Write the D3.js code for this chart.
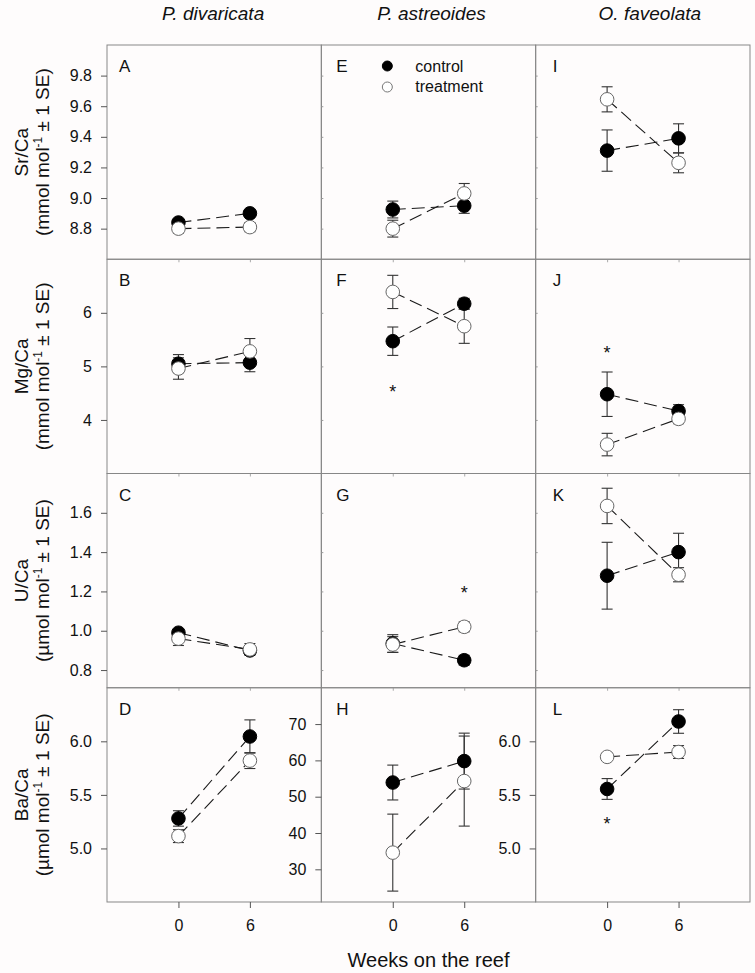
<!DOCTYPE html>
<html>
<head>
<meta charset="utf-8">
<script src="https://cdn.jsdelivr.net/npm/d3@7"></script>
<style>
  html, body { margin: 0; padding: 0; background: #fefcfc; }
  svg { display: block; }
</style>
</head>
<body>
<script>
// ---------------- DATA ----------------
const weeks = [0, 6];
const species = ["P. divaricata", "P. astreoides", "O. faveolata"];
const ratios = ["Sr/Ca", "Mg/Ca", "U/Ca", "Ba/Ca"];
const unitPrefix = ["mmol", "mmol", "\u00B5mol", "\u00B5mol"];
const panelLetters = [["A", "E", "I"], ["B", "F", "J"], ["C", "G", "K"], ["D", "H", "L"]];
const seriesNames = ["control", "treatment"];

// means [row][col][week]
const controlMean = [
  [[8.84, 8.90], [8.925, 8.95], [9.31, 9.39]],
  [[5.05, 5.07], [5.47, 6.17], [4.48, 4.165]],
  [[0.99, 0.90], [0.935, 0.85], [1.28, 1.40]],
  [[5.28, 6.045], [53.9, 59.8], [5.555, 6.185]]
];
const controlSE = [
  [[0.02, 0.02], [0.055, 0.05], [0.135, 0.095]],
  [[0.17, 0.17], [0.265, 0.10], [0.415, 0.12]],
  [[0.015, 0.02], [0.045, 0.025], [0.17, 0.096]],
  [[0.072, 0.155], [4.8, 7.7], [0.097, 0.11]]
];
const treatmentMean = [
  [[8.80, 8.81], [8.80, 9.03], [9.645, 9.23]],
  [[4.96, 5.28], [6.39, 5.75], [3.54, 4.02]],
  [[0.96, 0.905], [0.93, 1.02], [1.635, 1.285]],
  [[5.115, 5.82], [34.6, 54.3], [5.855, 5.90]]
];
const treatmentSE = [
  [[0.03, 0.03], [0.055, 0.065], [0.082, 0.065]],
  [[0.2, 0.24], [0.31, 0.32], [0.21, 0.09]],
  [[0.035, 0.03], [0.04, 0.025], [0.09, 0.036]],
  [[0.06, 0.074], [10.6, 12.4], [0.02, 0.06]]
];

// significance markers: [row, col, week, value]
const asterisks = [
  [1, 1, 0, 4.61],
  [1, 2, 0, 5.33],
  [2, 1, 6, 1.213],
  [3, 2, 0, 5.27]
];

const xDomain = [-6, 12];
const yDomains = [[8.6, 10.0], [3, 7], [0.71, 1.8], [4.5, 6.5]];
const yDomainH = [21, 80];
const yTicks = [
  [8.8, 9.0, 9.2, 9.4, 9.6, 9.8],
  [4, 5, 6],
  [0.8, 1.0, 1.2, 1.4, 1.6],
  [5.0, 5.5, 6.0]
];
const yTicksH = [30, 40, 50, 60, 70];
const yTickFormats = [".1f", "d", ".1f", ".1f"];

// ---------------- LAYOUT ----------------
const W = 755, H = 973;
const L = 107, T = 45, R = 750, B = 902;
const colW = (R - L) / 3, rowH = (B - T) / 4;
const FONT = "Arial, 'Liberation Sans', Helvetica, sans-serif";
const frameColor = "#878787";

const svg = d3.select("body").append("svg")
  .attr("width", W).attr("height", H)
  .style("font-family", FONT);

svg.append("rect").attr("width", W).attr("height", H).attr("fill", "#fefcfc");

const meansArr = [controlMean, treatmentMean];
const seArr = [controlSE, treatmentSE];

for (let r = 0; r < 4; r++) {
  for (let c = 0; c < 3; c++) {
    const x0 = L + c * colW, y0 = T + r * rowH;
    const x = d3.scaleLinear().domain(xDomain).range([x0, x0 + colW]);
    const special = (r === 3 && c === 1);
    const y = d3.scaleLinear().domain(special ? yDomainH : yDomains[r]).range([y0 + rowH, y0]);
    const g = svg.append("g");

    // frame
    g.append("rect")
      .attr("x", x0).attr("y", y0).attr("width", colW).attr("height", rowH)
      .attr("fill", "none").attr("stroke", frameColor).attr("stroke-width", 1);

    // y axis
    if (c === 0 || r === 3) {
      const ax = d3.axisLeft(y)
        .tickValues(special ? yTicksH : yTicks[r])
        .tickFormat(d3.format(special ? "d" : yTickFormats[r]))
        .tickSize(6).tickPadding(9);
      const ag = g.append("g").attr("transform", `translate(${x0},0)`).call(ax);
      ag.select(".domain").remove();
      ag.selectAll("line").attr("stroke", "#555");
      ag.selectAll("text").attr("font-size", 16).attr("fill", "#111").attr("font-family", FONT);
    } else {
      const ax = d3.axisRight(y).tickValues(yTicks[r]).tickSize(2).tickFormat("");
      const ag = g.append("g").attr("transform", `translate(${x0},0)`).call(ax);
      ag.select(".domain").remove();
      ag.selectAll("line").attr("stroke", "#999");
    }

    // x axis
    if (r === 3) {
      const ax = d3.axisBottom(x).tickValues(weeks).tickSize(6).tickPadding(12).tickFormat(d3.format("d"));
      const ag = g.append("g").attr("transform", `translate(0,${y0 + rowH})`).call(ax);
      ag.select(".domain").remove();
      ag.selectAll("line").attr("stroke", "#555");
      ag.selectAll("text").attr("font-size", 16).attr("fill", "#111").attr("font-family", FONT);
    } else {
      const ax = d3.axisBottom(x).tickValues(weeks).tickSize(3).tickFormat("");
      const ag = g.append("g").attr("transform", `translate(0,${y0 + rowH})`).call(ax);
      ag.select(".domain").remove();
      ag.selectAll("line").attr("stroke", "#aaa");
    }

    // panel letter
    const ldx = [12, 15, 17][c];
    g.append("text")
      .attr("x", x0 + ldx).attr("y", y0 + 27)
      .attr("font-size", 17).attr("fill", "#111")
      .text(panelLetters[r][c]);

    // series
    for (let s = 0; s < 2; s++) {
      const pts = weeks.map((w, i) => ({ w: w, m: meansArr[s][r][c][i], se: seArr[s][r][c][i] }));
      // error bars
      pts.forEach(p => {
        const cx = x(p.w);
        const eg = g.append("g").attr("stroke", "#333").attr("stroke-width", 1.1);
        eg.append("line").attr("x1", cx).attr("x2", cx).attr("y1", y(p.m - p.se)).attr("y2", y(p.m + p.se));
        eg.append("line").attr("x1", cx - 5.5).attr("x2", cx + 5.5).attr("y1", y(p.m - p.se)).attr("y2", y(p.m - p.se));
        eg.append("line").attr("x1", cx - 5.5).attr("x2", cx + 5.5).attr("y1", y(p.m + p.se)).attr("y2", y(p.m + p.se));
      });
      // dashed line
      g.append("path")
        .datum(pts)
        .attr("d", d3.line().x(p => x(p.w)).y(p => y(p.m)))
        .attr("fill", "none").attr("stroke", "#1a1a1a").attr("stroke-width", 1.1)
        .attr("stroke-dasharray", "13,6");
    }
    for (let s = 0; s < 2; s++) {
      const pts = weeks.map((w, i) => ({ w: w, m: meansArr[s][r][c][i] }));
      g.selectAll(null).data(pts).enter().append("circle")
        .attr("cx", p => x(p.w)).attr("cy", p => y(p.m)).attr("r", 6.8)
        .attr("fill", s === 0 ? "#000" : "#fff")
        .attr("stroke", s === 0 ? "#000" : "#666")
        .attr("stroke-width", 1);
    }

    // asterisks
    asterisks.filter(a => a[0] === r && a[1] === c).forEach(a => {
      g.append("text")
        .attr("x", x(a[2])).attr("y", y(a[3]) + 0.58 * 18)
        .attr("text-anchor", "middle").attr("font-size", 18).attr("fill", "#111")
        .text("*");
    });

    // legend in panel E
    if (r === 0 && c === 1) {
      seriesNames.forEach((name, i) => {
        g.append("circle")
          .attr("cx", x0 + 66).attr("cy", y0 + 21 + i * 21).attr("r", 5)
          .attr("fill", i === 0 ? "#000" : "#fff")
          .attr("stroke", i === 0 ? "#000" : "#777").attr("stroke-width", 1);
        g.append("text")
          .attr("x", x0 + 94).attr("y", y0 + 26.5 + i * 20.5)
          .attr("font-size", 16).attr("fill", "#111")
          .text(name);
      });
    }
  }
}

// column titles
const titleDx = [-1, 3, 7];
species.forEach((sp, c) => {
  svg.append("text")
    .attr("x", L + c * colW + colW / 2 + titleDx[c]).attr("y", 20)
    .attr("text-anchor", "middle").attr("font-size", 19).attr("font-style", "italic")
    .attr("fill", "#111").text(sp);
});

// row y labels
ratios.forEach((rt, r) => {
  const cy = T + r * rowH + rowH / 2;
  svg.append("text")
    .attr("transform", `translate(28,${cy}) rotate(-90)`)
    .attr("text-anchor", "middle").attr("font-size", 19).attr("fill", "#111")
    .text(rt);
  const t2 = svg.append("text")
    .attr("transform", `translate(49,${cy}) rotate(-90)`)
    .attr("text-anchor", "middle").attr("font-size", 19).attr("fill", "#111");
  t2.append("tspan").text(`(${unitPrefix[r]} mol`);
  t2.append("tspan").attr("dy", -7).attr("font-size", 12).text("-1");
  t2.append("tspan").attr("dy", 7).text("  \u00B1 1 SE)");
});

// x label
svg.append("text")
  .attr("x", (L + R) / 2).attr("y", 967)
  .attr("text-anchor", "middle").attr("font-size", 20).attr("fill", "#111")
  .text("Weeks on the reef");
</script>
</body>
</html>
